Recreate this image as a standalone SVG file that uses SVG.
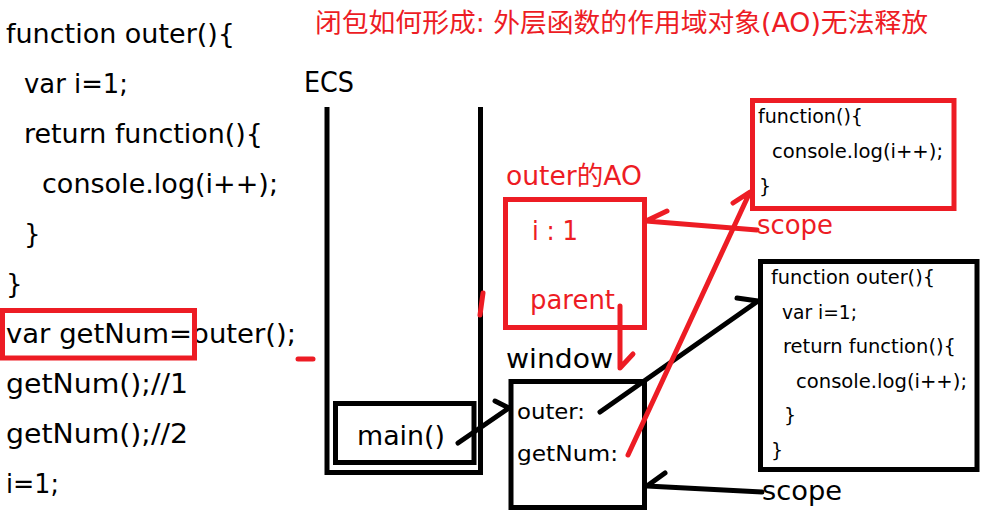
<svg xmlns="http://www.w3.org/2000/svg" width="1008" height="516" viewBox="0 0 1008 516">
<style>
text{font-family:"DejaVu Sans","Noto Sans CJK SC",sans-serif;fill:#000}
.code{font-size:26px}
.red{fill:#ed1c24}
.sm{font-size:19px}
.mid{font-size:22px}
.bk{fill:none;stroke:#000;stroke-width:5}
.rd{fill:none;stroke:#ed1c24;stroke-width:5}
.cb{fill:none;stroke:#000;stroke-width:5;stroke-linecap:round;stroke-linejoin:round}
.cr{fill:none;stroke:#ed1c24;stroke-width:5;stroke-linecap:round;stroke-linejoin:round}
</style>
<rect width="1008" height="516" fill="#fff"/>
<g id="code">
<text class="code" x="6" y="43" textLength="229" lengthAdjust="spacingAndGlyphs">function outer(){</text>
<text class="code" x="24" y="93" textLength="104" lengthAdjust="spacingAndGlyphs">var i=1;</text>
<text class="code" x="24" y="143" textLength="239" lengthAdjust="spacingAndGlyphs">return function(){</text>
<text class="code" x="42" y="193" textLength="236" lengthAdjust="spacingAndGlyphs">console.log(i++);</text>
<text class="code" x="24" y="243">}</text>
<text class="code" x="6" y="293">}</text>
<text class="code" x="6" y="343" textLength="290" lengthAdjust="spacingAndGlyphs">var getNum=outer();</text>
<text class="code" x="6" y="393" textLength="182" lengthAdjust="spacingAndGlyphs">getNum();//1</text>
<text class="code" x="6" y="443" textLength="182" lengthAdjust="spacingAndGlyphs">getNum();//2</text>
<text class="code" x="6" y="493" textLength="53" lengthAdjust="spacingAndGlyphs">i=1;</text>
<rect class="rd" x="2.5" y="310.5" width="192" height="47.5"/>
</g>
<g id="title">
<text class="red" x="315" y="32" font-size="26" textLength="613" lengthAdjust="spacingAndGlyphs">闭包如何形成: 外层函数的作用域对象(AO)无法释放</text>
</g>
<g id="ecs">
<text x="304" y="92" font-size="28" textLength="50" lengthAdjust="spacingAndGlyphs">ECS</text>
<path class="bk" d="M327,107 V472.5 H480.5 V107"/>
</g>
<g id="main">
<rect class="bk" x="335.5" y="403.5" width="138.5" height="59"/>
<text class="code" x="357" y="445" textLength="88" lengthAdjust="spacingAndGlyphs">main()</text>
</g>
<g id="outer-ao">
<text class="red" x="506" y="185" font-size="26" textLength="136" lengthAdjust="spacingAndGlyphs">outer的AO</text>
<rect class="rd" x="505.5" y="199.5" width="139" height="128"/>
<text class="red" x="532" y="240" font-size="26" textLength="46" lengthAdjust="spacingAndGlyphs">i : 1</text>
<text class="red" x="530" y="309" font-size="26" textLength="85" lengthAdjust="spacingAndGlyphs">parent</text>
</g>
<g id="window">
<text class="code" x="506" y="368" textLength="107" lengthAdjust="spacingAndGlyphs">window</text>
<rect class="bk" x="511" y="381.5" width="133.5" height="126"/>
<text class="mid" x="517" y="419" textLength="68" lengthAdjust="spacingAndGlyphs">outer:</text>
<text class="mid" x="517" y="461" textLength="101" lengthAdjust="spacingAndGlyphs">getNum:</text>
</g>
<g id="inner-function">
<rect class="rd" x="752.5" y="100.5" width="201.5" height="108"/>
<text class="sm" x="758" y="123" textLength="105" lengthAdjust="spacingAndGlyphs">function(){</text>
<text class="sm" x="772" y="158" textLength="171" lengthAdjust="spacingAndGlyphs">console.log(i++);</text>
<text class="sm" x="759" y="193">}</text>
</g>
<g id="outer-function">
<rect class="bk" x="760.5" y="261.5" width="216.5" height="208"/>
<text class="sm" x="771" y="284" textLength="164" lengthAdjust="spacingAndGlyphs">function outer(){</text>
<text class="sm" x="782" y="319" textLength="75" lengthAdjust="spacingAndGlyphs">var i=1;</text>
<text class="sm" x="783" y="353" textLength="173" lengthAdjust="spacingAndGlyphs">return function(){</text>
<text class="sm" x="796" y="388" textLength="171" lengthAdjust="spacingAndGlyphs">console.log(i++);</text>
<text class="sm" x="784" y="422">}</text>
<text class="sm" x="771" y="457">}</text>
</g>
<g id="labels">
<text class="red" x="757" y="234" font-size="27" textLength="76" lengthAdjust="spacingAndGlyphs">scope</text>
<text x="762" y="500" font-size="27" textLength="80" lengthAdjust="spacingAndGlyphs">scope</text>
</g>
<g id="connectors">
<path class="cb" d="M458,443 L509,408 L495,401"/>
<path class="cb" d="M600,412 L758,301 L737,298"/>
<path class="cb" d="M665,473 L647,486 L762,492"/>
<path class="cr" d="M667,211 L646,221 L757,230"/>
<path class="cr" d="M628,455 L750,192 L733,203"/>
<path class="cr" d="M620,306 L620,368 L633,354"/>
<path class="cr" d="M480,315 L483,293" stroke-width="3"/>
<path class="cr" d="M298,359 H313" stroke-width="4"/>
</g>
</svg>
